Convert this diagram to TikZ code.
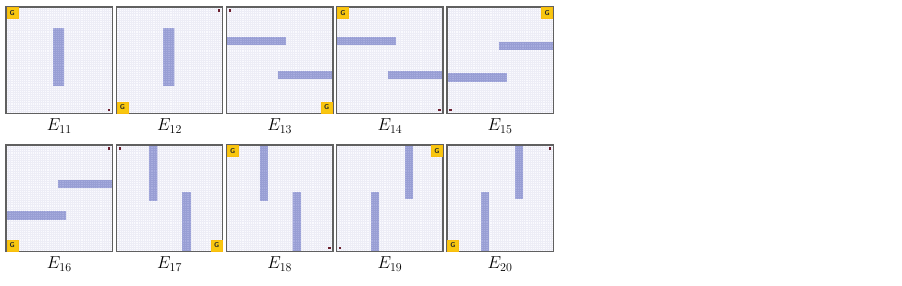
\documentclass[tikz,border=0pt]{standalone}
\usepackage{xcolor}
\usepackage{tikz}
\usetikzlibrary{positioning,calc}
\definecolor{MazeFloor}{HTML}{FAFAFE}
\definecolor{MazeGrid}{HTML}{EDEDF6}
\definecolor{MazeWall}{HTML}{A8ADDE}
\definecolor{MazeWallGrid}{HTML}{989ED4}
\definecolor{MazeFrame}{HTML}{606060}
\definecolor{MazeGold}{HTML}{F8C70F}
\definecolor{MazeAgent}{HTML}{6B1F2E}
\tikzset{
  arena/.style={fill=MazeFloor, minimum width=106pt, minimum height=106pt, inner sep=0pt,
    path picture={\draw[MazeGrid, line width=0.2pt] (path picture bounding box.south west)
      grid[step=2.12pt] (path picture bounding box.north east);}},
  frame/.style={draw=MazeFrame, line width=1.3pt},
  wall/.style={fill=MazeWall,
    path picture={\draw[MazeWallGrid, line width=0.2pt] (path picture bounding box.south west)
      grid[step=2.12pt] (path picture bounding box.north east);}},
  goal/.style={fill=MazeGold, draw=MazeGold!85!orange, line width=0.4pt, minimum size=11pt,
    inner sep=0pt, font=\fontsize{7}{7}\sffamily\bfseries, text=black!85},
  agent/.style={fill=MazeAgent, minimum size=2.4pt, inner sep=0pt},
  tag/.style={inner sep=0pt, font=\fontsize{18}{20}\selectfont}
}
\begin{document}
\begin{tikzpicture}[x=1pt, y=-1pt]
  \useasboundingbox (0,0) rectangle (902,286);
  % arenas, two rows of five
  \foreach \n/\cx/\cy in {11/59.3/60.2, 12/169.5/60.2, 13/279.7/60.2, 14/389.9/60.2, 15/500.1/60.2,
                          16/59.3/198.2, 17/169.5/198.2, 18/279.7/198.2, 19/389.9/198.2, 20/500.1/198.2}
    \node[arena] (e\n) at (\cx,\cy) {};
  % walls, relative to the top left corner
  \foreach \n/\a/\b/\c/\d in {11/47/21/58/79, 12/47/21/58/79,
      13/0/30/59/38, 13/51/64/106/72, 14/0/30/59/38.5, 14/51/64/106/72.5,
      15/52/35/106/43, 15/0/66/60/75, 16/52/35/106/43, 16/0/66/60/75,
      17/33/0/41/55.5, 17/66/47/74.5/106, 18/33/0/41/55.5, 18/66/47/74.5/106,
      19/34.5/47/42.5/106, 19/68.5/0/76.5/53.5, 20/34.5/47/42.5/106, 20/68.5/0/76.5/53.5}
    \path[wall] ($(e\n.north west)+(\a,\b)$) rectangle ($(e\n.north west)+(\c,\d)$);
  \foreach \n in {11,...,20}
    \draw[frame] (e\n.north west) rectangle (e\n.south east);
  % goal and start
  \foreach \n/\g/\s in {11/north west/south east, 12/south west/north east, 13/south east/north west,
      14/north west/south east, 15/north east/south west, 16/south west/north east,
      17/south east/north west, 18/north west/south east, 19/north east/south west,
      20/south west/north east}{
    \node[goal, anchor=\g] (g\n) at ($(e\n.\g)!0.6pt!(e\n.center)$) {G};
    \node[agent] (a\n) at ($(e\n.\s)!5pt!(e\n.center)$) {};
  }
  % captions
  \foreach \n in {11,...,20}
    \node[tag, below=5.5pt of e\n] (l\n) {$E_{\n}$};
\end{tikzpicture}
\end{document}
